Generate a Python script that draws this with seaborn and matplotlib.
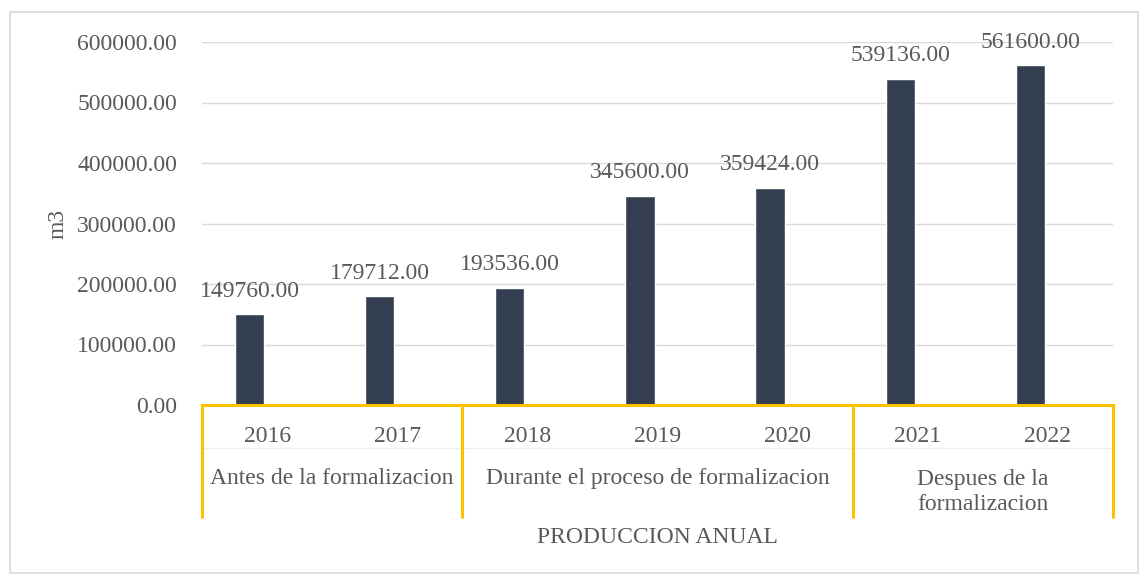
import matplotlib
matplotlib.use("Agg")
import matplotlib.pyplot as plt
import seaborn as sns
import pandas as pd
import numpy as np
from matplotlib.patches import Rectangle

years = ["2016", "2017", "2018", "2019", "2020", "2021", "2022"]
values = [149760.00, 179712.00, 193536.00, 345600.00, 359424.00, 539136.00, 561600.00]
groups = ["Antes de la formalizacion", "Durante el proceso de formalizacion", "Despues de la\nformalizacion"]
group_sizes = [2, 3, 2]
y_ticks = [0, 100000, 200000, 300000, 400000, 500000, 600000]
x_title = "PRODUCCION ANUAL"
y_title = "m3"

sns.set_theme(style="white")
plt.rcParams['font.family'] = ['Liberation Serif', 'DejaVu Serif']

TXT = "#595959"
BAR = "#333F50"
GOLD = "#FFC000"
GRID = "#D9D9D9"
FS = 17

# Excel-style clustered layout: the visible series sits in the left slot, an empty series in the right
df = pd.DataFrame({
    "year": years * 2,
    "value": values + [np.nan] * len(years),
    "series": ["m3"] * len(years) + ["empty"] * len(years),
})

fig = plt.figure(figsize=(11.4, 5.75), dpi=100)
ax = fig.add_axes([202/1140, 1-405/575, (1113-202)/1140, (405-42)/575])

sns.barplot(data=df, x="year", y="value", hue="series", hue_order=["m3", "empty"],
            palette=[BAR, BAR], width=0.54, gap=0.17, saturation=1, ax=ax,
            legend=False, zorder=3)

ax.set_ylim(0, 600000)
ax.set_xlim(-0.5, len(years) - 0.5)
ax.set_yticks(y_ticks)
ax.set_yticklabels([f"{v:.2f}" for v in y_ticks], color=TXT, fontsize=FS)
ax.tick_params(axis="y", length=0, pad=18)
ax.tick_params(axis="x", length=0, pad=15, labelsize=FS, labelcolor=TXT)
ax.yaxis.grid(True, color=GRID, linewidth=1)
ax.set_axisbelow(True)
for s in ["top", "right", "left"]:
    ax.spines[s].set_visible(False)
ax.spines["bottom"].set_color(GOLD)
ax.spines["bottom"].set_linewidth(2.2)
ax.spines["bottom"].set_zorder(4)

ax.set_xlabel("")
ax.set_ylabel(y_title, color=TXT, fontsize=FS)
ax.yaxis.set_label_coords(-0.146, 0.5)

ax.bar_label(ax.containers[0], labels=[f"{v:.2f}" for v in values], padding=9, color=TXT, fontsize=FS)

# multi-level category axis
trans = ax.get_xaxis_transform()
ax.plot([-0.5, len(years) - 0.5], [-0.118, -0.118], transform=trans, color="#EFEFEF",
        linewidth=1, clip_on=False, zorder=1)
start = 0
bounds = [-0.5]
for g, n in zip(groups, group_sizes):
    center = start + (n - 1) / 2
    ypos = -0.202 if "\n" not in g else -0.241
    ax.text(center, ypos, g, transform=trans, ha="center", va="center", color=TXT,
            fontsize=FS, linespacing=1.25)
    start += n
    bounds.append(start - 0.5)
for b in bounds:
    ax.plot([b, b], [0, -0.311], transform=trans, color=GOLD, linewidth=2.2,
            clip_on=False, zorder=4, solid_capstyle="butt")

ax.text(0.5, -0.366, x_title, transform=ax.transAxes, ha="center", va="center",
        color=TXT, fontsize=FS)

fig.patches.append(Rectangle((10/1140, 1-573/575), 1128/1140, 561/575, transform=fig.transFigure,
                             fill=False, edgecolor=GRID, linewidth=1.2))

fig.savefig("out.png", dpi=100)
